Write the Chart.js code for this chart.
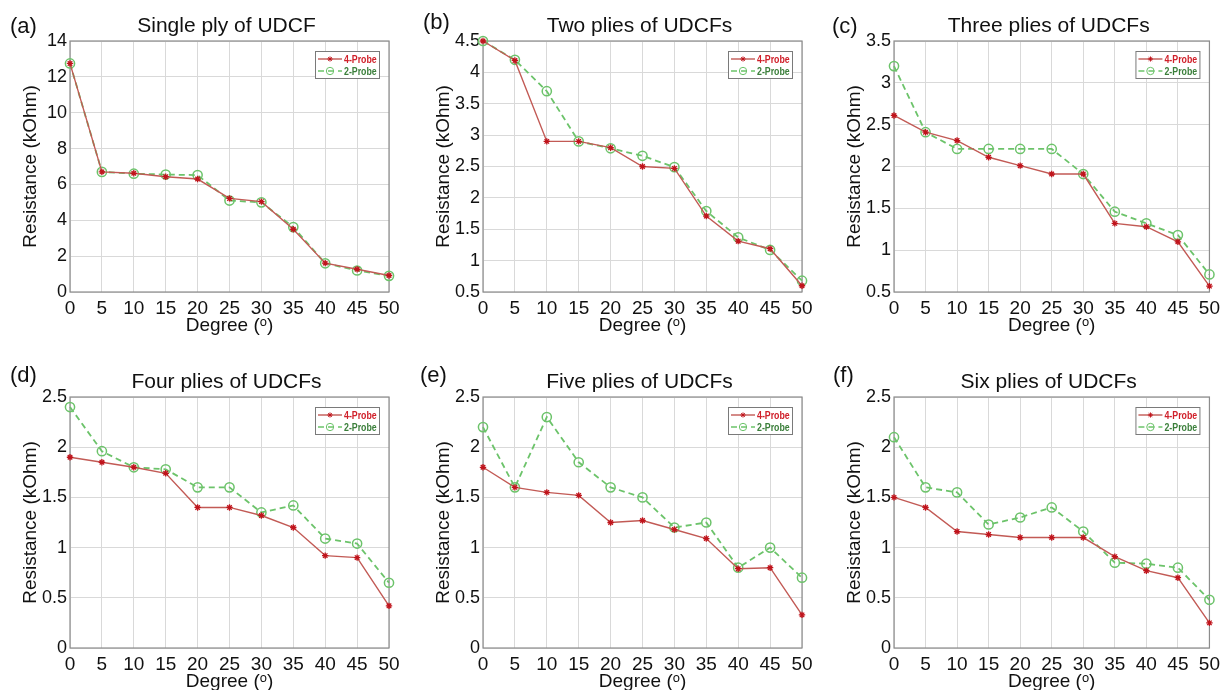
<!DOCTYPE html>
<html><head><meta charset="utf-8">
<script src="https://cdn.jsdelivr.net/npm/chart.js@4.4.1/dist/chart.umd.min.js"></script>
<style>
html,body{margin:0;padding:0;background:#fff;overflow:hidden;width:1225px;height:690px;}
.p{position:absolute;}
canvas{display:block;}
</style></head><body>
<div class="p" style="left:0px;top:0px"><canvas id="c0" width="412" height="345"></canvas></div>
<div class="p" style="left:413px;top:0px"><canvas id="c1" width="410" height="345"></canvas></div>
<div class="p" style="left:824px;top:0px"><canvas id="c2" width="401" height="345"></canvas></div>
<div class="p" style="left:0px;top:356px"><canvas id="c3" width="412" height="345"></canvas></div>
<div class="p" style="left:413px;top:356px"><canvas id="c4" width="410" height="345"></canvas></div>
<div class="p" style="left:824px;top:356px"><canvas id="c5" width="401" height="345"></canvas></div>
<script>
// ---- data ----
const degrees = [0, 5, 10, 15, 20, 25, 30, 35, 40, 45, 50];
const seriesNames = ['4-Probe', '2-Probe'];
const panelLabels = ['(a)', '(b)', '(c)', '(d)', '(e)', '(f)'];
const panelTitles = ['Single ply of UDCF', 'Two plies of UDCFs', 'Three plies of UDCFs',
                     'Four plies of UDCFs', 'Five plies of UDCFs', 'Six plies of UDCFs'];
const xTitle = 'Degree (ᵒ)';
const yTitle = 'Resistance (kOhm)';

const a4 = [12.75, 6.7, 6.62, 6.43, 6.3, 5.22, 5.04, 3.5, 1.61, 1.27, 0.92];
const a2 = [12.75, 6.7, 6.6, 6.55, 6.52, 5.1, 5.0, 3.62, 1.6, 1.2, 0.9];
const b4 = [4.5, 4.19, 2.9, 2.9, 2.8, 2.5, 2.47, 1.71, 1.31, 1.19, 0.6];
const b2 = [4.5, 4.2, 3.7, 2.9, 2.79, 2.67, 2.49, 1.79, 1.37, 1.17, 0.68];
const c4 = [2.61, 2.41, 2.31, 2.11, 2.01, 1.91, 1.91, 1.32, 1.28, 1.1, 0.57];
const c2 = [3.2, 2.41, 2.21, 2.21, 2.21, 2.21, 1.91, 1.46, 1.32, 1.18, 0.71];
const d4 = [1.9, 1.85, 1.8, 1.74, 1.4, 1.4, 1.32, 1.2, 0.92, 0.9, 0.42];
const d2 = [2.4, 1.96, 1.8, 1.78, 1.6, 1.6, 1.35, 1.42, 1.09, 1.04, 0.65];
const e4 = [1.8, 1.6, 1.55, 1.52, 1.25, 1.27, 1.18, 1.09, 0.79, 0.8, 0.33];
const e2 = [2.2, 1.6, 2.3, 1.85, 1.6, 1.5, 1.2, 1.25, 0.8, 1.0, 0.7];
const f4 = [1.5, 1.4, 1.16, 1.13, 1.1, 1.1, 1.1, 0.91, 0.77, 0.7, 0.25];
const f2 = [2.1, 1.6, 1.55, 1.23, 1.3, 1.4, 1.16, 0.85, 0.84, 0.8, 0.48];

const xTicks = [0, 5, 10, 15, 20, 25, 30, 35, 40, 45, 50];
const yTicksA = [0, 2, 4, 6, 8, 10, 12, 14];
const yTicksB = [0.5, 1, 1.5, 2, 2.5, 3, 3.5, 4, 4.5];
const yTicksC = [0.5, 1, 1.5, 2, 2.5, 3, 3.5];
const yTicksDEF = [0, 0.5, 1, 1.5, 2, 2.5];

// ---- layout / style ----
const FONT = "'Liberation Sans', Arial, Helvetica, sans-serif";
const panels = [
  {four: a4, two: a2, yt: yTicksA, lx: 10, ly: 33},
  {four: b4, two: b2, yt: yTicksB, lx: 10, ly: 29},
  {four: c4, two: c2, yt: yTicksC, lx: 8,  ly: 33},
  {four: d4, two: d2, yt: yTicksDEF, lx: 10, ly: 26},
  {four: e4, two: e2, yt: yTicksDEF, lx: 7,  ly: 26},
  {four: f4, two: f2, yt: yTicksDEF, lx: 9,  ly: 26},
];
const PLOT_LEFT = 70, PLOT_RIGHT = 389, PLOT_TOP = 41, PLOT_BOTTOM = 292;

const framePlugin = {
  id: 'frame',
  beforeDatasetsDraw(chart) {
    const {ctx, chartArea: a} = chart;
    ctx.save();
    ctx.strokeStyle = '#8c8c8c';
    ctx.lineWidth = 1.2;
    ctx.strokeRect(a.left, a.top, a.right - a.left, a.bottom - a.top);
    ctx.restore();
  },
  afterDraw(chart) {
    const {ctx, chartArea: a} = chart;
    const o = chart.options.plugins.frame;
    ctx.save();
    // title
    ctx.fillStyle = '#111';
    ctx.font = '21px ' + FONT;
    ctx.textAlign = 'center';
    ctx.textBaseline = 'alphabetic';
    ctx.fillText(o.title, (a.left + a.right) / 2 - 3, 32);
    // panel label
    ctx.font = '22px ' + FONT;
    ctx.textAlign = 'left';
    ctx.fillText(o.label, o.lx, o.ly);
    // legend box
    const w = 64, h = 27, x = a.right - 10 - w, y = a.top + 10;
    ctx.fillStyle = '#fff';
    ctx.fillRect(x, y, w, h);
    ctx.strokeStyle = '#7a7a7a';
    ctx.lineWidth = 1;
    ctx.strokeRect(x + 0.5, y + 0.5, w, h);
    chart.data.datasets.forEach((ds, i) => {
      const cy = y + 8 + i * 12;
      ctx.strokeStyle = ds.borderColor;
      ctx.lineWidth = 1.4;
      ctx.setLineDash(ds.borderDash || []);
      ctx.beginPath(); ctx.moveTo(x + 3, cy); ctx.lineTo(x + 27, cy); ctx.stroke();
      ctx.setLineDash([]);
      ctx.strokeStyle = ds.pointBorderColor;
      ctx.fillStyle = ds.pointBackgroundColor;
      ctx.lineWidth = 1;
      Chart.helpers.drawPoint(ctx, {pointStyle: ds.pointStyle, radius: ds.pointRadius * 0.8, borderWidth: 1, rotation: 0}, x + 15, cy);
      ctx.save();
      ctx.translate(x + 29, cy + 0.5);
      ctx.scale(0.8, 1);
      ctx.fillStyle = ds.legendTextColor;
      ctx.font = "bold 11px " + FONT;
      ctx.textAlign = 'left';
      ctx.textBaseline = 'middle';
      ctx.fillText(ds.label, 0, 0);
      ctx.restore();
    });
    ctx.restore();
  }
};

const fmt = (v) => String(+Number(v).toFixed(2));

panels.forEach((p, i) => {
  const canvas = document.getElementById('c' + i);
  const W = canvas.width;
  new Chart(canvas, {
    type: 'line',
    data: {
      datasets: [
        {
          label: seriesNames[0],
          data: degrees.map((d, k) => ({x: d, y: p.four[k]})),
          borderColor: '#c25a55',
          borderWidth: 1.4,
          pointStyle: 'star',
          pointRadius: 3.2,
          pointBorderColor: '#c0141c',
          pointBackgroundColor: '#c0141c',
          pointBorderWidth: 1.3,
          legendTextColor: '#d0202a',
          clip: false,
          tension: 0
        },
        {
          label: seriesNames[1],
          data: degrees.map((d, k) => ({x: d, y: p.two[k]})),
          borderColor: '#6cc36a',
          borderWidth: 1.8,
          borderDash: [6, 4],
          pointStyle: 'circle',
          pointRadius: 4.6,
          pointBorderColor: '#6cc36a',
          pointBackgroundColor: 'rgba(255,255,255,0)',
          pointBorderWidth: 1.5,
          legendTextColor: '#3b7f3b',
          clip: false,
          tension: 0
        }
      ]
    },
    options: {
      responsive: false,
      animation: false,
      events: [],
      layout: {padding: {left: 0, right: W - PLOT_RIGHT, top: PLOT_TOP, bottom: 0}},
      plugins: {
        legend: {display: false},
        tooltip: {enabled: false},
        title: {display: false},
        frame: {title: panelTitles[i], label: panelLabels[i], lx: p.lx, ly: p.ly}
      },
      scales: {
        x: {
          type: 'linear',
          min: xTicks[0],
          max: xTicks[xTicks.length - 1],
          afterBuildTicks: (s) => { s.ticks = xTicks.map(v => ({value: v})); },
          afterFit: (s) => { s.height = 345 - PLOT_BOTTOM; },
          ticks: {autoSkip: false, maxRotation: 0, padding: 5, color: '#111',
                  font: {family: FONT, size: 19}, callback: fmt},
          grid: {color: '#d9d9d9', lineWidth: 1, drawTicks: false},
          border: {display: false},
          title: {display: true, text: xTitle, color: '#111',
                  font: {family: FONT, size: 19}, padding: {top: 0, bottom: 8}}
        },
        y: {
          type: 'linear',
          min: p.yt[0],
          max: p.yt[p.yt.length - 1],
          afterBuildTicks: (s) => { s.ticks = p.yt.map(v => ({value: v})); },
          afterFit: (s) => { s.width = PLOT_LEFT; },
          ticks: {autoSkip: false, padding: 3, color: '#111',
                  font: {family: FONT, size: 18}, callback: fmt},
          grid: {color: '#d9d9d9', lineWidth: 1, drawTicks: false},
          border: {display: false},
          title: {display: true, text: yTitle, color: '#111',
                  font: {family: FONT, size: 19}, padding: {top: 19, bottom: 0}}
        }
      }
    },
    plugins: [framePlugin]
  });
});
</script>
</body></html>
